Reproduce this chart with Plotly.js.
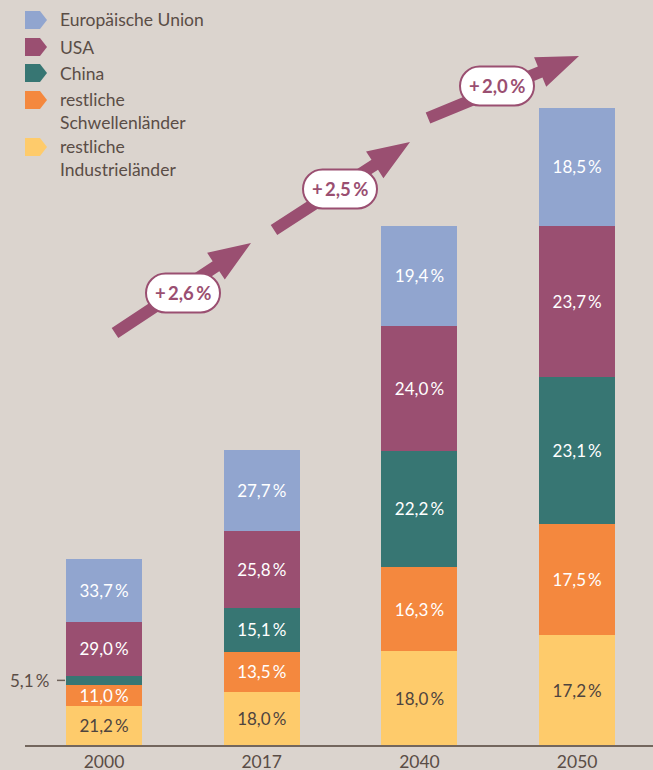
<!DOCTYPE html>
<html>
<head>
<meta charset="utf-8">
<script src="https://cdn.plot.ly/plotly-3.0.1.min.js"></script>
<style>
  html, body { margin: 0; padding: 0; background: #dbd4ce; }
  #chart { width: 653px; height: 770px; }
</style>
</head>
<body>
<div id="chart"></div>
<script>
// ---------- data ----------
const years = ['2000', '2017', '2040', '2050'];
// relative total size of each bar (same arbitrary unit)
const totals = [186, 295, 520, 637];
// shares in percent per region (bottom to top)
const shareIndustrie = [21.2, 18.0, 18.0, 17.2];
const shareSchwellen = [11.0, 13.5, 16.3, 17.5];
const shareChina     = [5.1, 15.1, 22.2, 23.1];
const shareUSA       = [29.0, 25.8, 24.0, 23.7];
const shareEU        = [33.7, 27.7, 19.4, 18.5];
const seriesNames = ['Europäische Union', 'USA', 'China', 'restliche<br>Schwellenländer', 'restliche<br>Industrieländer'];
const growthLabels = ['+\u20092,6\u2009%', '+\u20092,5\u2009%', '+\u20092,0\u2009%'];

// ---------- styling ----------
const BG = '#dbd4ce';
const TXT = '#5a4d46';
const PURPLE = '#9a4f71';
const colors = {
  eu: '#91a5cf', usa: '#9a4f71', china: '#377673', schwellen: '#f4883e', industrie: '#fecb6b'
};
const FONT = 'Lato, "Open Sans", sans-serif';

const W = 653, H = 770, ML = 25, MR = 0, MT = 45, MB = 25;
const PW = W - ML - MR, PH = H - MT - MB;
const px = x => (x - ML) / PW;
const py = y => (H - MB - y) / PH;

const fmt = v => v.toFixed(1).replace('.', ',') + '\u2009%';
const seg = share => share.map((s, i) => totals[i] * s / 100);

function barTrace(name, share, color, textColor, hideIdx) {
  return {
    type: 'bar', name: name, x: [0, 1, 2, 3], y: seg(share),
    marker: { color: color, line: { width: 0 } },
    text: share.map((s, i) => (hideIdx && hideIdx.includes(i)) ? '' : fmt(s)),
    textposition: 'inside', insidetextanchor: 'middle', textangle: 0,
    constraintext: 'none',
    textfont: { family: FONT, size: 17, color: textColor },
    hoverinfo: 'skip', showlegend: false
  };
}

const data = [
  barTrace('restliche Industrieländer', shareIndustrie, colors.industrie, '#4e443f'),
  barTrace('restliche Schwellenländer', shareSchwellen, colors.schwellen, '#ffffff'),
  barTrace('China', shareChina, colors.china, '#ffffff', [0]),
  barTrace('USA', shareUSA, colors.usa, '#ffffff'),
  barTrace('Europäische Union', shareEU, colors.eu, '#ffffff')
];

const shapes = [];
const annotations = [];

// ---------- custom legend ----------
const legendColors = [colors.eu, colors.usa, colors.china, colors.schwellen, colors.industrie];
const legendMarkY = [20, 47, 73, 100, 147];
const legendTextY = [20, 47, 73, 111, 158];
legendColors.forEach((c, i) => {
  const yc = legendMarkY[i];
  const path = `M ${px(25)} ${py(yc - 9)} L ${px(40)} ${py(yc - 9)} L ${px(47)} ${py(yc)} L ${px(40)} ${py(yc + 9)} L ${px(25)} ${py(yc + 9)} Z`;
  shapes.push({ type: 'path', xref: 'paper', yref: 'paper', path: path, fillcolor: c, line: { width: 0 } });
  annotations.push({
    xref: 'paper', yref: 'paper', x: px(58), y: py(legendTextY[i]), xanchor: 'left', yanchor: 'middle',
    text: seriesNames[i], showarrow: false, align: 'left',
    font: { family: FONT, size: 17.5, color: TXT }
  });
});

// ---------- growth arrows ----------
function arrowPath(tx, ty, hx, hy) {
  const dx = hx - tx, dy = hy - ty, len = Math.hypot(dx, dy);
  const ux = dx / len, uy = dy / len, nx = -uy, ny = ux;
  const w = 6, hw = 16, L = 42;
  const bx = hx - ux * L, by = hy - uy * L;
  const pts = [
    [tx + nx * w, ty + ny * w], [bx + nx * w, by + ny * w], [bx + nx * hw, by + ny * hw],
    [hx, hy], [bx - nx * hw, by - ny * hw], [bx - nx * w, by - ny * w], [tx - nx * w, ty - ny * w]
  ];
  return 'M ' + pts.map(p => px(p[0]) + ' ' + py(p[1])).join(' L ') + ' Z';
}
function pillPath(cx, cy, w, h) {
  const r = h / 2, k = 0.5523 * r;
  const x0 = cx - w / 2 + r, x1 = cx + w / 2 - r, y0 = cy - r, y1 = cy + r;
  const P = (x, y) => px(x) + ' ' + py(y);
  return `M ${P(x0, y0)} L ${P(x1, y0)} C ${P(x1 + k, y0)} ${P(x1 + r, cy - k)} ${P(x1 + r, cy)} ` +
         `C ${P(x1 + r, cy + k)} ${P(x1 + k, y1)} ${P(x1, y1)} L ${P(x0, y1)} ` +
         `C ${P(x0 - k, y1)} ${P(x0 - r, cy + k)} ${P(x0 - r, cy)} ` +
         `C ${P(x0 - r, cy - k)} ${P(x0 - k, y0)} ${P(x0, y0)} Z`;
}
const arrows = [[115, 333, 251, 243], [274, 230, 410, 142], [428, 118, 579, 56]];
const pills = [[183, 293], [340, 189], [497, 86]];
arrows.forEach((a, i) => {
  shapes.push({ type: 'path', xref: 'paper', yref: 'paper', path: arrowPath(...a), fillcolor: PURPLE, line: { width: 0 } });
  shapes.push({ type: 'path', xref: 'paper', yref: 'paper', path: pillPath(pills[i][0], pills[i][1], 74, 39),
    fillcolor: '#ffffff', line: { color: PURPLE, width: 2 } });
  annotations.push({
    xref: 'paper', yref: 'paper', x: px(pills[i][0]), y: py(pills[i][1]), xanchor: 'center', yanchor: 'middle',
    text: '<b>' + growthLabels[i] + '</b>', showarrow: false,
    font: { family: FONT, size: 18.5, color: PURPLE }
  });
});

// ---------- outside label for small China segment in 2000 ----------
const chinaMid0 = seg(shareIndustrie)[0] + seg(shareSchwellen)[0] + seg(shareChina)[0] / 2;
annotations.push({
  xref: 'paper', yref: 'y', x: px(51), y: chinaMid0, xanchor: 'right', yanchor: 'middle',
  text: fmt(shareChina[0]), showarrow: false, font: { family: FONT, size: 17, color: TXT }
});
shapes.push({ type: 'line', xref: 'paper', yref: 'y', x0: px(57), x1: px(65), y0: chinaMid0, y1: chinaMid0,
  line: { color: '#6e625a', width: 1.5 } });

const layout = {
  width: W, height: H,
  margin: { l: ML, r: MR, t: MT, b: MB, pad: 0 },
  paper_bgcolor: BG, plot_bgcolor: BG,
  barmode: 'stack', bargap: 0.518,
  showlegend: false, hovermode: false,
  font: { family: FONT, color: TXT },
  xaxis: {
    type: 'linear', range: [-0.501, 3.481], tickvals: [0, 1, 2, 3], ticktext: years,
    showline: true, linecolor: '#73665d', linewidth: 2, showgrid: false, zeroline: false,
    ticks: '', ticklen: 0, tickfont: { family: FONT, size: 17.5, color: TXT }, fixedrange: true
  },
  yaxis: {
    range: [0, PH], visible: false, showgrid: false, zeroline: false, fixedrange: true
  },
  shapes: shapes,
  annotations: annotations
};

Plotly.newPlot('chart', data, layout, { displayModeBar: false, staticPlot: true });
</script>
</body>
</html>
